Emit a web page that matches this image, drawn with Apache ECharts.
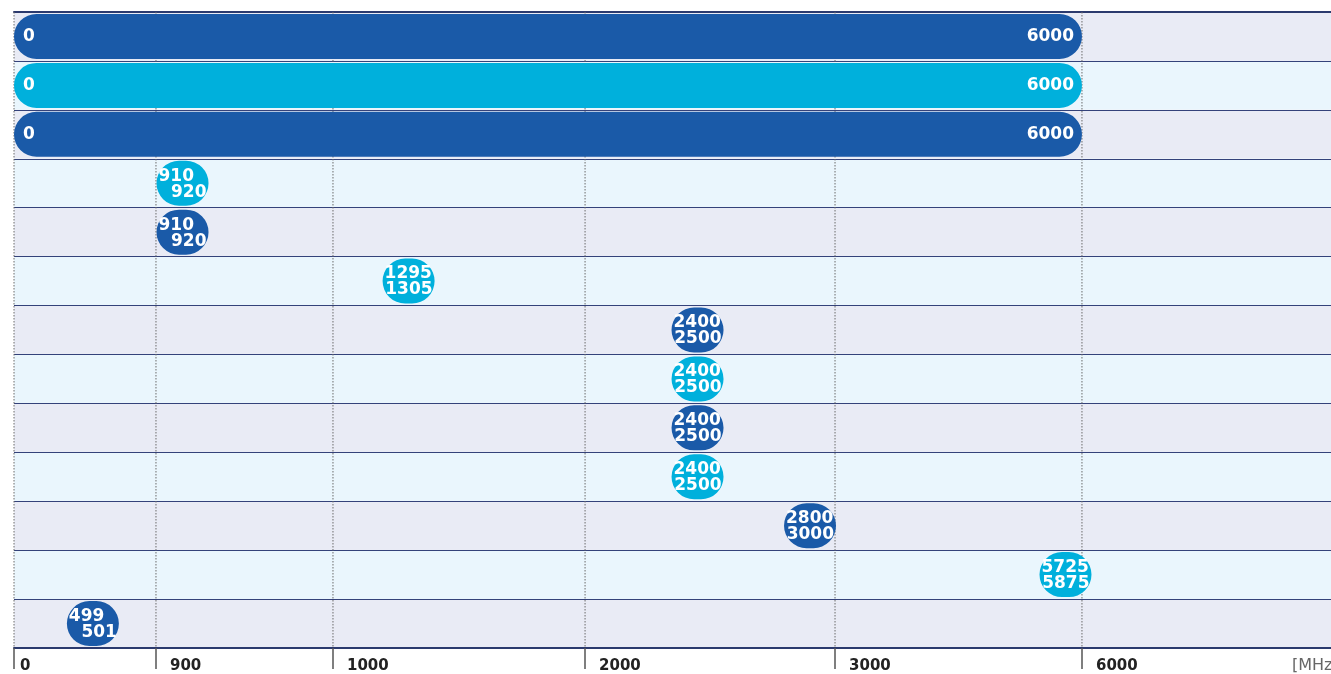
<!DOCTYPE html>
<html lang="en">
<head>
    <meta charset="UTF-8">
    <title>Frequency bands</title>
    <script src="https://cdn.jsdelivr.net/npm/echarts@6.0.0/dist/echarts.min.js"></script>
    <style>
        body {
            margin: 0;
            padding: 0;
            background-color: #fff;
        }

        #chart {
            width: 1331px;
            height: 674px;
        }
    </style>
</head>
<body>

<div id="chart"></div>

<script>
    // bands, top to bottom
    const bandStart = [0, 0, 0, 910, 910, 1295, 2400, 2400, 2400, 2400, 2800, 5725, 499];
    const bandEnd = [6000, 6000, 6000, 920, 920, 1305, 2500, 2500, 2500, 2500, 3000, 5875, 501];
    const bandColor = ['dark', 'light', 'dark', 'light', 'dark', 'light', 'dark', 'light', 'dark', 'light', 'dark', 'light', 'dark'];

    // axis tick labels (the axis is not linear)
    const tickValues = [0, 900, 1000, 2000, 3000, 6000];
    const unitLabel = '[MHz]';

    // where each tick sits along the axis, as a share of its length
    const tickPos = [0, 0.1078, 0.2422, 0.4336, 0.6234, 0.8109];

    const colors = { dark: '#1a5aa8', light: '#00b0dc' };

    // piecewise linear scale: MHz -> axis unit
    function toAxis(v) {
        for (let i = 0; i < tickValues.length - 1; i++) {
            if (v <= tickValues[i + 1]) {
                const t = (v - tickValues[i]) / (tickValues[i + 1] - tickValues[i]);
                return tickPos[i] + t * (tickPos[i + 1] - tickPos[i]);
            }
        }
        return tickPos[tickPos.length - 1];
    }

    const rows = bandStart.map((_, i) => String(i));
    const bandData = bandStart.map((s, i) => [i, toAxis(s), toAxis(bandEnd[i]), bandColor[i], s, bandEnd[i]]);
    const gridData = tickValues.map(v => [toAxis(v)]);

    const font = 'bold 17px "DejaVu Sans"';

    function renderBand(params, api) {
        const row = api.value(0);
        const x1 = api.coord([api.value(1), row])[0];
        const x2 = api.coord([api.value(2), row])[0];
        const yc = api.coord([0, row])[1];
        const h = api.size([0, 1])[1] * 0.92;
        const fill = colors[api.value(3)];
        const startTxt = String(api.value(4));
        const endTxt = String(api.value(5));

        let left = x1;
        let w = x2 - x1;
        if (w < 52) {
            left = (x1 + x2) / 2 - 26;
            w = 52;
        }

        const children = [{
            type: 'rect',
            shape: { x: left, y: yc - h / 2, width: w, height: h, r: h / 2 },
            style: { fill: fill }
        }];

        if (w > 120) {
            children.push({
                type: 'text',
                style: { text: startTxt, x: left + 9, y: yc, fill: '#fff', font: font, align: 'left', verticalAlign: 'middle' }
            });
            children.push({
                type: 'text',
                style: { text: endTxt, x: left + w - 8, y: yc, fill: '#fff', font: font, align: 'right', verticalAlign: 'middle' }
            });
        } else {
            children.push({
                type: 'text',
                style: { text: startTxt, x: left + 2, y: yc - 7, fill: '#fff', font: font, align: 'left', verticalAlign: 'middle' }
            });
            children.push({
                type: 'text',
                style: { text: endTxt, x: left + w - 2, y: yc + 9, fill: '#fff', font: font, align: 'right', verticalAlign: 'middle' }
            });
        }
        return { type: 'group', children: children };
    }

    function renderGridLine(params, api) {
        const x = api.coord([api.value(0), 0])[0];
        const top = params.coordSys.y;
        const bottom = params.coordSys.y + params.coordSys.height;
        return {
            type: 'line',
            shape: { x1: x, y1: top, x2: x, y2: bottom },
            style: { stroke: '#6b6b6b', lineWidth: 1, lineDash: [1.5, 1.5] }
        };
    }

    function tickLabel(v) {
        let best = 0;
        tickPos.forEach((p, i) => {
            if (Math.abs(p - v) < Math.abs(tickPos[best] - v)) best = i;
        });
        return best === 0 ? '{first|' + tickValues[best] + '}' : '{tick|' + tickValues[best] + '}';
    }

    const chart = echarts.init(document.getElementById('chart'));

    chart.setOption({
        animation: false,
        grid: { left: 14, right: 0, top: 12, bottom: 26 },
        xAxis: [{
            type: 'value',
            min: 0,
            max: 1,
            position: 'bottom',
            axisLine: { show: true, lineStyle: { color: '#2b3a6e', width: 2 } },
            axisTick: {
                show: true,
                customValues: tickPos,
                length: 21,
                lineStyle: { color: '#555', width: 1.5 }
            },
            axisLabel: {
                customValues: tickPos,
                formatter: tickLabel,
                margin: 11,
                align: 'left',
                rich: {
                    first: { fontFamily: 'DejaVu Sans', fontWeight: 'bold', fontSize: 15, color: '#222', padding: [0, 0, 0, 6] },
                    tick: { fontFamily: 'DejaVu Sans', fontWeight: 'bold', fontSize: 15, color: '#222', padding: [0, 0, 0, 14] }
                }
            },
            splitLine: { show: false }
        }, {
            type: 'value',
            min: 0,
            max: 1,
            position: 'top',
            axisLine: { show: true, lineStyle: { color: '#2b3a6e', width: 2 } },
            axisTick: { show: false },
            axisLabel: { show: false },
            splitLine: { show: false }
        }],
        yAxis: {
            type: 'category',
            data: rows,
            inverse: true,
            axisLine: { show: false },
            axisTick: { show: false },
            axisLabel: { show: false },
            splitLine: { show: true, lineStyle: { color: '#34427a', width: 1.2 } },
            splitArea: { show: true, areaStyle: { color: ['#e9ebf5', '#eaf6fd'] } }
        },
        graphic: [{
            type: 'text',
            left: 1292,
            top: 658,
            style: { text: unitLabel, fill: '#666', font: '16px "DejaVu Sans"' }
        }],
        series: [{
            type: 'custom',
            name: 'grid',
            z: 1,
            silent: true,
            renderItem: renderGridLine,
            data: gridData,
            encode: { x: 0 }
        }, {
            type: 'custom',
            name: 'bands',
            z: 3,
            renderItem: renderBand,
            data: bandData,
            encode: { x: [1, 2], y: 0 }
        }]
    });
</script>
</body>
</html>
